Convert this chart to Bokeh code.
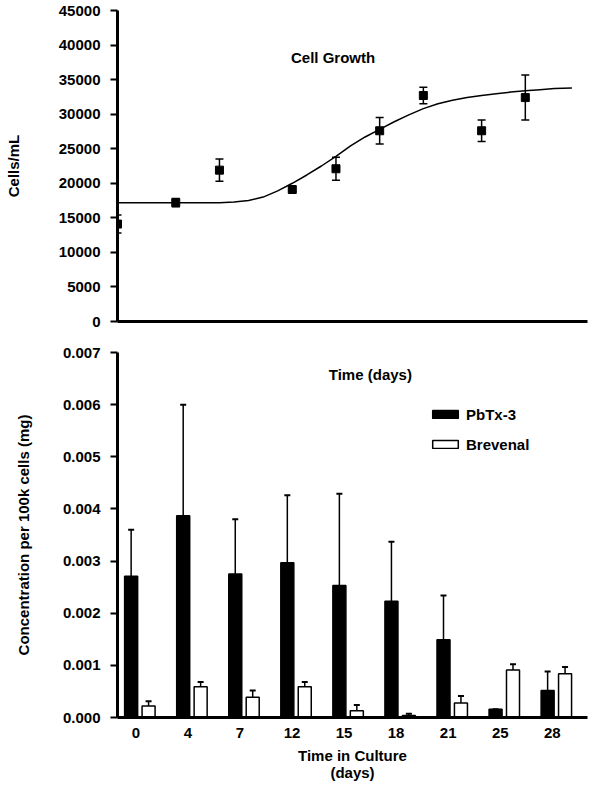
from bokeh.plotting import figure
from bokeh.models import (Range1d, FixedTicker, Whisker, ColumnDataSource, Label,
                          Legend, LegendItem, TeeHead, NumeralTickFormatter)
from bokeh.layouts import column
from bokeh.embed import file_html
from bokeh.resources import INLINE

FONT = "Liberation Sans"
FS = "15px"

# ---------------- data: cell growth ----------------
days = [0, 4, 7, 12, 15, 18, 21, 25, 28]
cells = [14100, 17200, 21900, 19100, 22100, 27600, 32700, 27600, 32400]
cells_err = [1300, 600, 1600, 250, 1650, 1900, 1200, 1550, 3250]

fit_days = [0, 2, 4, 6, 7, 8, 9, 10, 11, 12, 13, 14, 15, 16, 17, 18, 19, 20,
            21, 22, 23, 24, 25, 26, 27, 28, 29, 30, 31.2]
fit_cells = [17200, 17200, 17200, 17200, 17200, 17300, 17500, 18000, 18900, 20000,
             21200, 22500, 23900, 25400, 26700, 27800, 28900, 29900, 30800, 31500,
             32000, 32400, 32700, 32950, 33200, 33400, 33550, 33700, 33800]

growth_ticks = [0, 5000, 10000, 15000, 20000, 25000, 30000, 35000, 40000, 45000]

# ---------------- data: toxin concentration ----------------
culture_days = ["0", "4", "7", "12", "15", "18", "21", "25", "28"]
pbtx3 = [0.00271, 0.00387, 0.00275, 0.00297, 0.00253, 0.00223, 0.00149, 0.00016, 0.00052]
pbtx3_err = [0.00089, 0.00213, 0.00105, 0.00129, 0.00176, 0.00114, 0.00085, 0.0, 0.00036]
brevenal = [0.00022, 0.00059, 0.00039, 0.00059, 0.00013, 0.00004, 0.00028, 0.00091, 0.00084]
brevenal_err = [0.00009, 0.00009, 0.00013, 0.00009, 0.00011, 0.00003, 0.00013, 0.00011, 0.00013]
conc_ticks = [0.0, 0.001, 0.002, 0.003, 0.004, 0.005, 0.006, 0.007]


def style_axes(p):
    for ax in (p.xaxis[0], p.yaxis[0]):
        ax.axis_line_width = 3
        ax.axis_line_color = "black"
        ax.major_tick_line_width = 2
        ax.major_tick_line_color = "black"
        ax.minor_tick_line_color = None
        ax.major_tick_in = 0
        ax.major_label_text_font = FONT
        ax.major_label_text_font_size = FS
        ax.major_label_text_font_style = "bold"
        ax.major_label_text_color = "black"
        ax.axis_label_text_font = FONT
        ax.axis_label_text_font_size = FS
        ax.axis_label_text_font_style = "bold"
        ax.axis_label_text_color = "black"
    p.xgrid.visible = False
    p.ygrid.visible = False
    p.outline_line_color = None


def text_label(x, y, text):
    return Label(x=x, y=y, text=text,
                 text_font=FONT, text_font_size=FS, text_font_style="bold",
                 text_color="black", text_align="center", text_baseline="middle")


# ---------------- top figure ----------------
top = figure(width=600, height=338, output_backend="svg", toolbar_location=None,
             x_range=Range1d(0, 32.27), y_range=Range1d(0, 45000),
             min_border_left=117, min_border_right=7, min_border_top=10,
             min_border_bottom=17)
style_axes(top)
top.yaxis.ticker = FixedTicker(ticks=growth_ticks)
top.yaxis.major_tick_out = 7
top.yaxis.major_label_standoff = 10
top.yaxis.axis_label = "Cells/mL"
top.yaxis.axis_label_standoff = 34
top.xaxis.ticker = FixedTicker(ticks=[])
top.xaxis.major_tick_out = 0

top.line(fit_days, fit_cells, line_color="black", line_width=1.5)
gsrc = ColumnDataSource(dict(
    x=days, y=cells,
    lo=[v - e for v, e in zip(cells, cells_err)],
    hi=[v + e for v, e in zip(cells, cells_err)]))
top.add_layout(Whisker(source=gsrc, base="x", lower="lo", upper="hi",
                       line_color="black", line_width=1.5, level="glyph",
                       upper_head=TeeHead(size=8, line_width=1.5, line_color="black"),
                       lower_head=TeeHead(size=8, line_width=1.5, line_color="black")))
top.scatter("x", "y", source=gsrc, marker="square", size=8,
            fill_color="black", line_color="black")
top.add_layout(text_label(14.8, 38200, "Cell Growth"))

# ---------------- bottom figure ----------------
OFF_BLACK = -0.09
OFF_WHITE = 0.245
BAR_W = 0.25
idx = list(range(len(culture_days)))

bot = figure(width=600, height=448, output_backend="svg", toolbar_location=None,
             x_range=Range1d(-0.352, 8.676), y_range=Range1d(0, 0.007),
             min_border_left=113, min_border_right=13, min_border_top=14,
             min_border_bottom=69)
style_axes(bot)
bot.yaxis.ticker = FixedTicker(ticks=conc_ticks)
bot.yaxis.formatter = NumeralTickFormatter(format="0.000")
bot.yaxis.major_tick_out = 7
bot.yaxis.major_label_standoff = 10
bot.yaxis.axis_label = "Concentration per 100k cells (mg)"
bot.yaxis.axis_label_standoff = 28
bot.xaxis.ticker = FixedTicker(ticks=idx)
bot.xaxis.major_label_overrides = {i: lab for i, lab in enumerate(culture_days)}
bot.xaxis.major_tick_out = 0
bot.xaxis.major_label_standoff = 10
bot.xaxis.axis_label = "Time in Culture\n(days)"
bot.xaxis.axis_label_standoff = 6
bot.xaxis.axis_label_text_line_height = 1.0

bsrc = ColumnDataSource(dict(
    xb=[i + OFF_BLACK for i in idx], top=pbtx3,
    hi=[v + e for v, e in zip(pbtx3, pbtx3_err)]))
wsrc = ColumnDataSource(dict(
    xw=[i + OFF_WHITE for i in idx], top=brevenal,
    hi=[v + e for v, e in zip(brevenal, brevenal_err)]))

rb = bot.vbar(x="xb", top="top", width=BAR_W, source=bsrc,
              fill_color="black", line_color="black", line_width=1.5)
rw = bot.vbar(x="xw", top="top", width=BAR_W, source=wsrc,
              fill_color="white", line_color="black", line_width=1.5)
bot.add_layout(Whisker(source=bsrc, base="xb", lower="top", upper="hi",
                       line_color="black", line_width=1.5, lower_head=None,
                       upper_head=TeeHead(size=6, line_width=2, line_color="black")))
bot.add_layout(Whisker(source=wsrc, base="xw", lower="top", upper="hi",
                       line_color="black", line_width=1.5, lower_head=None,
                       upper_head=TeeHead(size=6, line_width=2, line_color="black")))

bot.add_layout(text_label(4.505, 0.00657, "Time (days)"))

legend = Legend(items=[LegendItem(label="PbTx-3", renderers=[rb]),
                       LegendItem(label="Brevenal", renderers=[rw])],
                location=(312, 264), orientation="vertical",
                glyph_width=32, glyph_height=10, label_standoff=5,
                label_height=18, spacing=12, padding=0, margin=0,
                border_line_color=None, background_fill_alpha=0,
                label_text_font=FONT, label_text_font_size=FS,
                label_text_font_style="bold", label_text_color="black")
bot.add_layout(legend)

layout = column(top, bot, spacing=0)

with open("out.html", "w") as f:
    f.write(file_html(layout, INLINE))
